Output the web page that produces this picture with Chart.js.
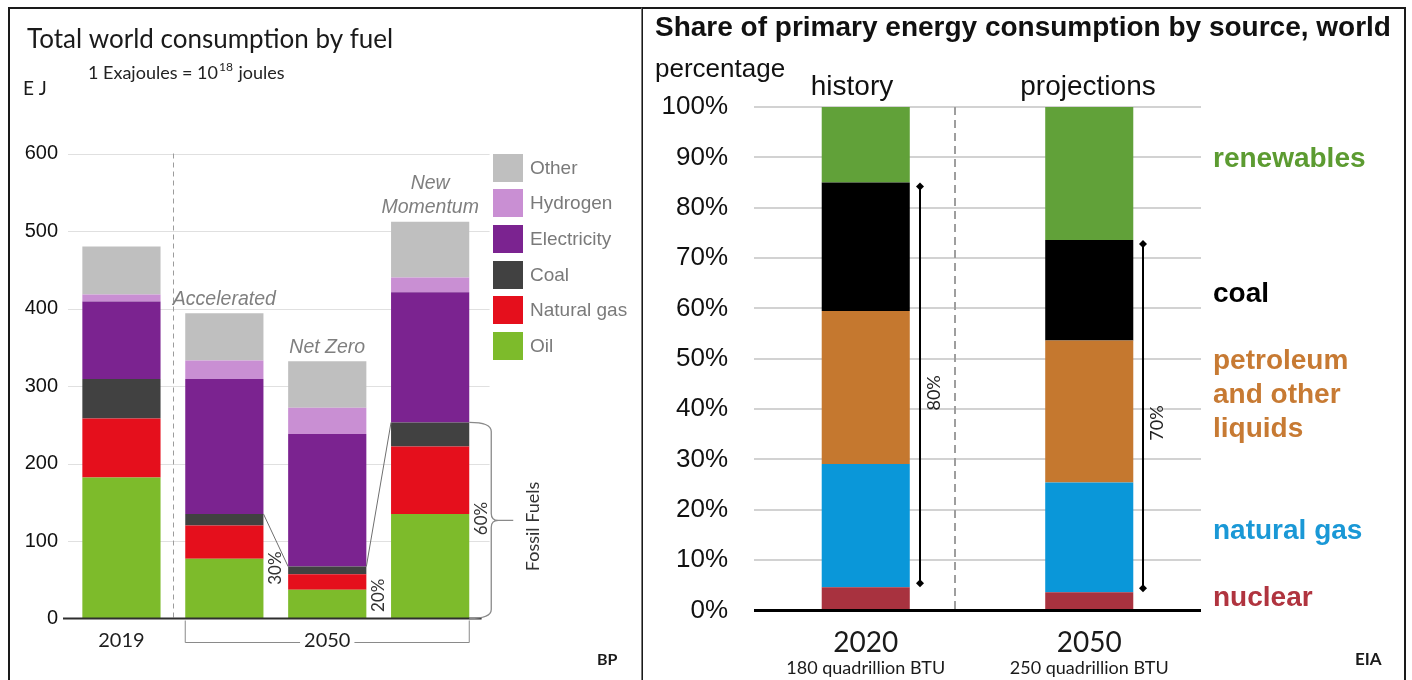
<!DOCTYPE html>
<html lang="en">
<head>
<meta charset="utf-8">
<title>World energy consumption by fuel and by source</title>
<script src="https://cdn.jsdelivr.net/npm/chart.js@4.4.1/dist/chart.umd.min.js"></script>
<style>
  html, body { margin: 0; padding: 0; background: #fff; }
  body { position: relative; width: 1412px; height: 680px; overflow: hidden; }
  .frame { position: absolute; box-sizing: border-box; border: 2px solid #1a1a1a; }
  #frameL { left: 8px; top: 7px; width: 635px; height: 700px; }
  #frameR { left: 641px; top: 7px; width: 765px; height: 700px; border-left: 1px solid #7a7a7a; }
  canvas { position: absolute; left: 0; top: 0; }
  #legend { position: absolute; left: 493px; top: 150px; font-family: "Liberation Sans", Arial, sans-serif; }
  .li { display: flex; align-items: center; height: 35.6px; }
  .sw { width: 30px; height: 28px; margin-right: 7px; flex: none; }
  .lt { font-size: 19px; color: #7a7a7a; white-space: nowrap; }
</style>
</head>
<body>
<div class="frame" id="frameL"></div>
<div class="frame" id="frameR"></div>
<canvas id="fuelChart" width="1412" height="680"></canvas>
<canvas id="shareChart" width="1412" height="680"></canvas>
<div id="legend"></div>
<script>
// ---- Total world consumption by fuel (EJ) ----
const fuelCategories = ['2019', 'Accelerated', 'Net Zero', ['New', 'Momentum']];
const oilEJ         = [182, 77, 37, 135];
const naturalGasEJ  = [76, 43, 20, 87];
const coalEJ        = [51, 15, 10, 31];
const electricityEJ = [100, 174, 171, 168];
const hydrogenEJ    = [9, 24, 34, 19];
const otherEJ       = [62, 61, 60, 72];
const fuelNames     = ['Oil', 'Natural gas', 'Coal', 'Electricity', 'Hydrogen', 'Other'];
const fossilShareText = ['30%', '20%', '60%'];
const ejMax = 600;
const ejStep = 100;

// ---- Share of primary energy consumption by source (%) ----
const sourceYears    = ['2020', '2050'];
const yearTotals     = ['180 quadrillion BTU', '250 quadrillion BTU'];
const nuclearPct     = [4.6, 3.6];
const naturalGasPct  = [24.5, 21.8];
const petroleumPct   = [30.4, 28.2];
const coalPct        = [25.5, 20.0];
const renewablesPct  = [15.0, 26.4];
const sourceNames    = ['nuclear', 'natural gas', ['petroleum', 'and other', 'liquids'], 'coal', 'renewables'];
const pctStep = 10;

Chart.defaults.font.family = '"Liberation Sans", Arial, sans-serif';

function line(ctx, x1, y1, x2, y2) {
  ctx.beginPath(); ctx.moveTo(x1, y1); ctx.lineTo(x2, y2); ctx.stroke();
}
function text(ctx, s, x, y, font, color, align, rot) {
  ctx.save();
  ctx.font = font; ctx.fillStyle = color;
  ctx.textAlign = align || 'left'; ctx.textBaseline = 'middle';
  ctx.translate(x, y);
  if (rot) ctx.rotate(rot);
  ctx.fillText(s, 0, 0);
  ctx.restore();
}

// ===================== left panel =====================
const fuelColors = ['#7dbb2b', '#e50f1c', '#414141', '#7b2390', '#c98fd3', '#bfbfbf'];
const fuelSeries = [oilEJ, naturalGasEJ, coalEJ, electricityEJ, hydrogenEJ, otherEJ];
const humanist = 'Lato, "Open Sans", sans-serif';

const fuelAnnotations = {
  id: 'fuelAnnotations',
  beforeDatasetsDraw(chart) {
    const { ctx, chartArea: a, scales: { x, y } } = chart;
    ctx.save();
    ctx.strokeStyle = '#e0e0e0'; ctx.lineWidth = 1;
    y.ticks.forEach(t => {
      if (t.value === 0) return;
      const py = Math.round(y.getPixelForValue(t.value)) + 0.5;
      line(ctx, a.left - 2, py, a.right + 8, py);
    });
    // 2019 | 2050 separator
    const sx = Math.round((x.getPixelForValue(0) + x.getPixelForValue(1)) / 2) + 0.5;
    ctx.setLineDash([5, 4]); ctx.strokeStyle = '#9c9c9c';
    line(ctx, sx, y.getPixelForValue(y.max), sx, y.getPixelForValue(0));
    ctx.restore();
  },
  afterDatasetsDraw(chart) {
    const { ctx, chartArea: a, scales: { x, y } } = chart;
    const zero = y.getPixelForValue(0);
    const coalMeta = chart.getDatasetMeta(2).data;
    const topMeta = chart.getDatasetMeta(fuelSeries.length - 1).data;
    ctx.save();
    // zero axis
    ctx.strokeStyle = '#2e2e2e'; ctx.lineWidth = 2;
    line(ctx, a.left - 7, zero, a.right, zero);

    // connectors between scenario fossil tops
    ctx.strokeStyle = '#6f6f6f'; ctx.lineWidth = 1;
    for (let i = 1; i < coalMeta.length - 1; i++) {
      const b1 = coalMeta[i], b2 = coalMeta[i + 1];
      line(ctx, b1.x + b1.width / 2, b1.y, b2.x - b2.width / 2, b2.y);
    }

    // scenario names above 2050 bars
    for (let i = 1; i < topMeta.length; i++) {
      const lab = fuelCategories[i];
      const lines = Array.isArray(lab) ? lab : [lab];
      const b = topMeta[i];
      lines.slice().reverse().forEach((s, k) => {
        text(ctx, s, b.x, b.y - 14 - k * 24, 'italic 19.5px "Liberation Sans", Arial', '#7f7f7f', 'center');
      });
    }

    // fossil share labels
    const ffFont = '17px ' + humanist;
    const g1 = (coalMeta[1].x + coalMeta[1].width / 2 + coalMeta[2].x - coalMeta[2].width / 2) / 2;
    const g2 = (coalMeta[2].x + coalMeta[2].width / 2 + coalMeta[3].x - coalMeta[3].width / 2) / 2;
    text(ctx, fossilShareText[0], g1, y.getPixelForValue(65), ffFont, '#333', 'center', -Math.PI / 2);
    text(ctx, fossilShareText[1], g2, y.getPixelForValue(30), ffFont, '#333', 'center', -Math.PI / 2);

    // brace around the New Momentum fossil fuels
    const nm = coalMeta[3];
    const r = nm.x + nm.width / 2;
    const top = nm.y, bot = zero, mid = (top + bot) / 2;
    const x1 = r + 22, tip = r + 44;
    ctx.strokeStyle = '#8a8a8a'; ctx.lineWidth = 1.3;
    ctx.beginPath();
    ctx.moveTo(r, top);
    ctx.quadraticCurveTo(x1, top, x1, top + 9);
    ctx.lineTo(x1, mid - 7);
    ctx.quadraticCurveTo(x1, mid, x1 + 7, mid);
    ctx.lineTo(tip, mid);
    ctx.moveTo(x1 + 7, mid);
    ctx.quadraticCurveTo(x1, mid, x1, mid + 7);
    ctx.lineTo(x1, bot - 9);
    ctx.quadraticCurveTo(x1, bot, r, bot);
    ctx.stroke();
    text(ctx, fossilShareText[2], r + 12, mid - 2, ffFont, '#333', 'center', -Math.PI / 2);
    text(ctx, 'Fossil Fuels', r + 64, mid + 6, '18px ' + humanist, '#333', 'center', -Math.PI / 2);

    // bottom labels and the 2050 bracket
    const lblFont = '20px ' + humanist;
    text(ctx, fuelCategories[0], x.getPixelForValue(0), zero + 22, lblFont, '#1e1e1e', 'center');
    const cx = x.getPixelForValue(2);
    text(ctx, '2050', cx, zero + 22, lblFont, '#1e1e1e', 'center');
    ctx.font = lblFont;
    const hw = ctx.measureText('2050').width / 2 + 4;
    const L = coalMeta[1].x - coalMeta[1].width / 2, R = r;
    const hy = Math.round(zero + 23) + 0.5;
    ctx.strokeStyle = '#8a8a8a'; ctx.lineWidth = 1;
    ctx.beginPath();
    ctx.moveTo(L, zero + 2); ctx.lineTo(L, hy); ctx.lineTo(cx - hw, hy);
    ctx.moveTo(cx + hw, hy); ctx.lineTo(R, hy); ctx.lineTo(R, zero + 2);
    ctx.stroke();
    ctx.restore();
  },
  afterDraw(chart) {
    const ctx = chart.ctx;
    text(ctx, 'Total world consumption by fuel', 27, 40, '26px ' + humanist, '#1a1a1a');
    // 1 Exajoules = 10^18 joules
    ctx.save();
    const base = '18px ' + humanist, sup = '12px ' + humanist;
    ctx.font = base;
    const p1 = '1 Exajoules = 10';
    const w1 = ctx.measureText(p1).width;
    text(ctx, p1, 88, 73, base, '#222');
    text(ctx, '18', 88 + w1 + 1, 67, sup, '#222');
    ctx.font = sup;
    const w2 = ctx.measureText('18').width;
    text(ctx, ' joules', 88 + w1 + w2 + 2, 73, base, '#222');
    ctx.restore();
    text(ctx, 'E J', 23, 89, '19px ' + humanist, '#1a1a1a');
    text(ctx, 'BP', 597, 660, 'bold 16px ' + humanist, '#1a1a1a');
  }
};

const fuelChart = new Chart(document.getElementById('fuelChart'), {
  type: 'bar',
  data: {
    labels: fuelCategories,
    datasets: fuelSeries.map((d, i) => ({
      label: fuelNames[i],
      data: d,
      backgroundColor: fuelColors[i],
      borderWidth: 0,
      barPercentage: 0.76,
      categoryPercentage: 1
    }))
  },
  options: {
    responsive: false,
    animation: false,
    events: [],
    layout: { padding: { top: 153.5, bottom: 61.5, left: 0, right: 930.4 } },
    plugins: { legend: { display: false }, tooltip: { enabled: false } },
    scales: {
      x: { stacked: true, display: false, offset: true },
      y: {
        stacked: true, min: 0, max: ejMax,
        ticks: { stepSize: ejStep, padding: 12, color: '#111', font: { size: 20 } },
        grid: { display: false, drawTicks: false },
        border: { display: false },
        afterFit(s) { s.width = 70; }
      }
    }
  },
  plugins: [fuelAnnotations]
});

// legend, top entry first
const legendEl = document.getElementById('legend');
fuelChart.data.datasets.slice().reverse().forEach(ds => {
  const row = document.createElement('div'); row.className = 'li';
  const sw = document.createElement('div'); sw.className = 'sw'; sw.style.background = ds.backgroundColor;
  const lt = document.createElement('div'); lt.className = 'lt'; lt.textContent = ds.label;
  row.appendChild(sw); row.appendChild(lt); legendEl.appendChild(row);
});

// ===================== right panel =====================
const sourceColors = ['#a8323f', '#0a97d9', '#c5782f', '#000000', '#61a139'];
const sourceTextColors = ['#b0343f', '#1a98d6', '#c77a33', '#000000', '#5c9b31'];
const sourceSeries = [nuclearPct, naturalGasPct, petroleumPct, coalPct, renewablesPct];

const shareAnnotations = {
  id: 'shareAnnotations',
  beforeDatasetsDraw(chart) {
    const { ctx, scales: { x, y } } = chart;
    const sx = Math.round(x.getPixelForValue(0) + 0.4 * (x.getPixelForValue(1) - x.getPixelForValue(0)));
    ctx.save();
    ctx.setLineDash([8, 5]); ctx.strokeStyle = '#9e9e9e'; ctx.lineWidth = 2;
    line(ctx, sx, y.getPixelForValue(y.max), sx, y.getPixelForValue(0));
    ctx.restore();
  },
  afterDatasetsDraw(chart) {
    const { ctx, chartArea: a, scales: { x, y } } = chart;
    const zero = y.getPixelForValue(0);
    ctx.save();
    ctx.strokeStyle = '#000'; ctx.lineWidth = 3;
    line(ctx, a.left, zero, a.right, zero);

    const bars = chart.getDatasetMeta(0).data;
    sourceYears.forEach((yr, i) => {
      const b = bars[i];
      const ax = Math.round(b.x + b.width / 2 + 10);
      const base = nuclearPct[i];
      const fossil = naturalGasPct[i] + petroleumPct[i] + coalPct[i];
      const yTop = y.getPixelForValue(base + fossil) + 4;
      const yBot = y.getPixelForValue(base) - 4;
      ctx.strokeStyle = '#000'; ctx.fillStyle = '#000'; ctx.lineWidth = 2;
      line(ctx, ax, yTop, ax, yBot);
      [yTop, yBot].forEach(py => {
        ctx.beginPath();
        ctx.moveTo(ax, py - 4); ctx.lineTo(ax + 4, py); ctx.lineTo(ax, py + 4); ctx.lineTo(ax - 4, py);
        ctx.closePath(); ctx.fill();
      });
      text(ctx, Math.round(fossil) + '%', ax + 14, yTop + 0.52 * (yBot - yTop),
        '18px ' + humanist, '#222', 'center', -Math.PI / 2);
      text(ctx, yr, b.x, 643, '28px ' + humanist, '#1a1a1a', 'center');
      text(ctx, yearTotals[i], b.x, 668, '18px ' + humanist, '#1a1a1a', 'center');
    });
    ctx.restore();
  },
  afterDraw(chart) {
    const ctx = chart.ctx;
    const sans = '"Liberation Sans", Arial, sans-serif';
    text(ctx, 'Share of primary energy consumption by source, world', 655, 28, 'bold 28px ' + sans, '#111');
    text(ctx, 'percentage', 655, 70, '26px ' + sans, '#111');
    text(ctx, 'history', 852, 87, '28px ' + sans, '#111', 'center');
    text(ctx, 'projections', 1088, 87, '28px ' + sans, '#111', 'center');
    // series names beside the bars
    const f = 'bold 28px ' + sans;
    const rows = [598, 531, 361, 294, 159];
    sourceNames.forEach((n, i) => {
      const lines = Array.isArray(n) ? n : [n];
      lines.forEach((s, k) => text(ctx, s, 1213, rows[i] + k * 34, f, sourceTextColors[i]));
    });
    text(ctx, 'EIA', 1355, 660, 'bold 17px ' + humanist, '#1a1a1a');
  }
};

new Chart(document.getElementById('shareChart'), {
  type: 'bar',
  data: {
    labels: sourceYears,
    datasets: sourceSeries.map((d, i) => ({
      label: Array.isArray(sourceNames[i]) ? sourceNames[i].join(' ') : sourceNames[i],
      data: d,
      backgroundColor: sourceColors[i],
      borderWidth: 0,
      barPercentage: 0.394,
      categoryPercentage: 1
    }))
  },
  options: {
    responsive: false,
    animation: false,
    events: [],
    layout: { padding: { top: 107, bottom: 69.5, left: 642, right: 211 } },
    plugins: { legend: { display: false }, tooltip: { enabled: false } },
    scales: {
      x: { stacked: true, display: false, offset: true },
      y: {
        stacked: true, min: 0, max: 100,
        ticks: { stepSize: pctStep, padding: 26, color: '#111', font: { size: 26 }, callback: v => v + '%' },
        grid: {
          drawTicks: false, lineWidth: 2,
          color: ctx => (ctx.tick && ctx.tick.value === 0) ? 'rgba(0,0,0,0)' : '#d2d2d2'
        },
        border: { display: false },
        afterFit(s) { s.width = 112; }
      }
    }
  },
  plugins: [shareAnnotations]
});
</script>
</body>
</html>
